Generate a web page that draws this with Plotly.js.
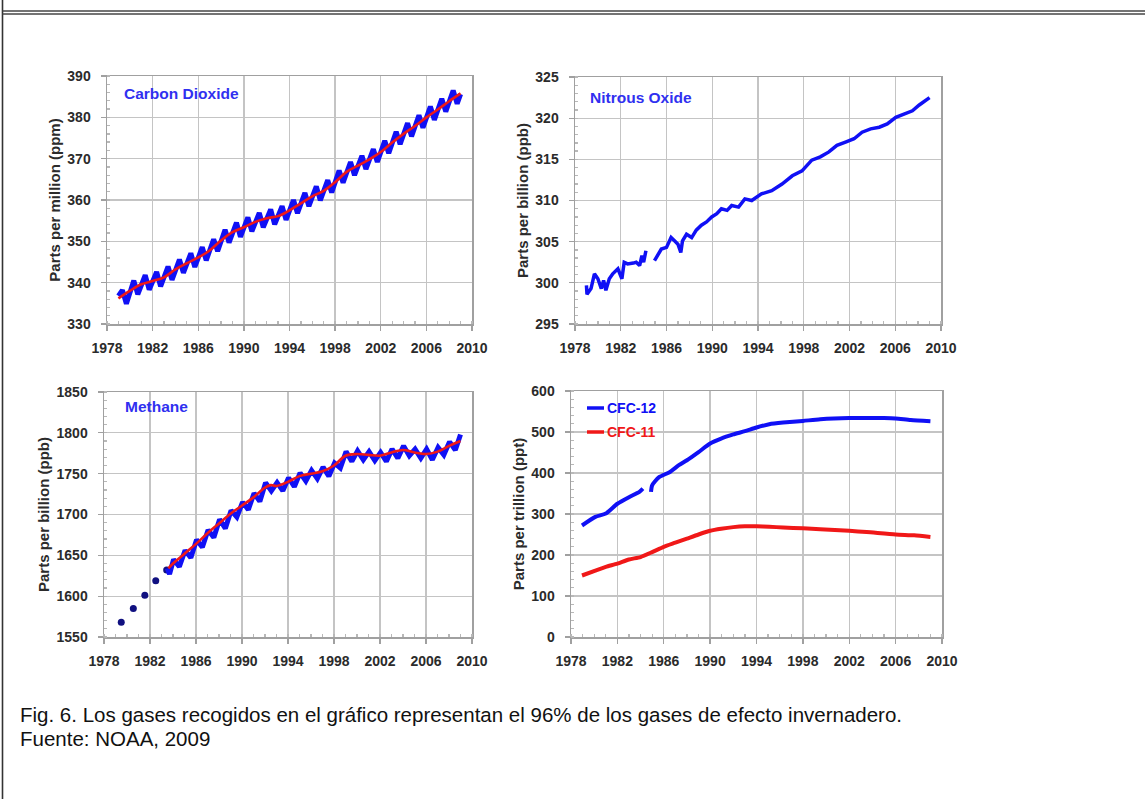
<!DOCTYPE html>
<html>
<head>
<meta charset="utf-8">
<script src="https://cdn.plot.ly/plotly-3.0.1.min.js"></script>
<style>
html,body{margin:0;padding:0;background:#fff;overflow:hidden;}
#chart{width:1145px;height:799px;}
</style>
</head>
<body>
<div id="chart"></div>
<script>
// ---------------- DATA ----------------
const xTickYears = [1978, 1982, 1986, 1990, 1994, 1998, 2002, 2006, 2010];

// Carbon dioxide – monthly-like record (seasonal peaks / troughs), ppm
const co2Years = [1979.0,
  1979.35,1979.7,1980.35,1980.7,1981.35,1981.7,1982.35,1982.7,1983.35,1983.7,
  1984.35,1984.7,1985.35,1985.7,1986.35,1986.7,1987.35,1987.7,1988.35,1988.7,
  1989.35,1989.7,1990.35,1990.7,1991.35,1991.7,1992.35,1992.7,1993.35,1993.7,
  1994.35,1994.7,1995.35,1995.7,1996.35,1996.7,1997.35,1997.7,1998.35,1998.7,
  1999.35,1999.7,2000.35,2000.7,2001.35,2001.7,2002.35,2002.7,2003.35,2003.7,
  2004.35,2004.7,2005.35,2005.7,2006.35,2006.7,2007.35,2007.7,2008.35,2008.7,
  2009.0];
const co2Values = [336.8,
  338.2,334.9,340.5,337.2,341.8,338.3,342.6,339.1,343.9,340.7,
  345.6,342.4,347.1,343.8,348.6,345.4,350.5,347.6,352.8,349.7,
  354.5,351.1,355.8,352.4,356.9,353.4,357.7,354.1,358.5,355.2,
  360.0,356.8,361.7,358.5,363.3,359.9,364.8,361.8,367.1,364.2,
  369.2,366.0,370.7,367.5,372.3,369.2,374.3,371.3,376.5,373.5,
  378.6,375.4,380.5,377.5,382.6,379.4,384.5,381.4,386.5,383.3,
  385.6];
// Carbon dioxide – de-seasonalised trend
const co2TrendYears = [1979,1980,1981,1982,1983,1984,1985,1986,1987,1988,1989,1990,1991,1992,1993,
  1994,1995,1996,1997,1998,1999,2000,2001,2002,2003,2004,2005,2006,2007,2008,2009];
const co2TrendValues = [336.2,338.0,339.6,340.4,341.3,343.2,344.7,346.1,347.8,350.2,352.2,353.4,354.7,355.6,356.1,
  357.5,359.2,360.9,362.2,364.3,366.8,368.3,369.8,371.6,373.9,376.0,377.9,380.0,381.9,383.9,385.8];

// Nitrous oxide, ppb (null = gap in the record)
const n2oYears = [1979.0,1979.05,1979.4,1979.7,1980.0,1980.3,1980.5,1980.7,1981.0,1981.3,1981.75,
  1982.1,1982.3,1982.6,1983.1,1983.35,1983.65,1983.85,1984.0,1984.2,1984.6,
  1984.95,1985.25,1985.55,1986.0,1986.4,1986.7,1987.0,1987.25,1987.4,1987.75,1988.2,1988.6,
  1989.05,1989.5,1989.95,1990.4,1990.8,1991.3,1991.7,1992.3,1992.85,1993.45,1994.3,1995.2,
  1996.1,1997.0,1997.85,1998.7,1999.45,2000.2,2000.9,2001.65,2002.4,2003.1,2003.85,2004.6,
  2005.3,2006.05,2006.8,2007.5,2008.1,2008.8,2009.0];
const n2oValues = [299.7,298.6,299.3,301.1,300.5,299.3,300.3,299.1,300.5,301.1,301.7,
  300.5,302.5,302.3,302.4,302.5,302.1,303.3,302.5,303.9,null,
  302.7,303.5,304.1,304.3,305.5,305.1,304.7,303.7,305.1,305.9,305.5,306.4,
  307.0,307.4,308.0,308.4,309.0,308.8,309.4,309.2,310.2,310.0,310.8,311.2,
  312.0,313.0,313.6,314.9,315.3,315.9,316.7,317.1,317.5,318.3,318.7,318.9,
  319.3,320.1,320.5,320.9,321.6,322.4,322.5];

// Methane, ppb – early flask annual points
const ch4DotYears = [1979.5,1980.55,1981.55,1982.5,1983.45];
const ch4DotValues = [1568,1585,1601,1619,1632];
// Methane – seasonal record
const ch4Years = [1983.5,1983.7,1984.05,1984.55,1985.05,1985.55,1986.05,1986.55,1987.05,1987.55,
  1988.05,1988.55,1989.05,1989.55,1990.05,1990.55,1991.05,1991.55,1992.05,1992.55,
  1993.05,1993.55,1994.05,1994.55,1995.05,1995.55,1996.05,1996.55,1997.05,1997.55,
  1998.05,1998.55,1999.05,1999.55,2000.05,2000.55,2001.05,2001.55,2002.05,2002.55,
  2003.05,2003.55,2004.05,2004.55,2005.05,2005.55,2006.05,2006.55,2007.05,2007.55,
  2008.05,2008.55,2009.0];
const ch4Values = [1634,1627,1645,1636,1656,1647,1669,1660,1681,1672,
  1694,1683,1705,1697,1715,1706,1726,1716,1739,1729,
  1739,1729,1745,1734,1751,1741,1754,1744,1758,1747,
  1763,1757,1777,1765,1778,1767,1777,1766,1776,1765,
  1780,1769,1784,1772,1780,1769,1780,1767,1782,1773,
  1789,1779,1798];
// Methane – trend
const ch4TrendYears = [1983.6,1984,1985,1986,1987,1988,1989,1990,1991,1992,1992.5,1993,1994,1995,1996,
  1997,1998,1999,2000,2001,2002,2003,2004,2005,2006,2007,2008,2009];
const ch4TrendValues = [1634,1640,1652,1664,1677,1689,1701,1711,1721,1733,1736,1735,1740,1747,1750,
  1753,1760,1772,1774,1773,1772,1776,1779,1776,1774,1777,1784,1790];

// CFC-12 and CFC-11, ppt
const cfc12Years = [1978.95,1980.1,1981.0,1982.0,1983.0,1983.9,1984.2,1984.6,1984.9,1985.0,1985.6,1986.5,
  1987.3,1988.0,1989.0,1990.0,1990.95,1992.0,1993.0,1994.0,1995.1,1996.3,1998.0,1999.5,
  2002.0,2003.5,2005.0,2006.0,2007.3,2009.0];
const cfc12Values = [272,293,301,325,341,354,362,null,354,370,390,402,
  419,431,451,472,484,494,502,511,519,523,527,531,
  534,534,534,533,529,526];
const cfc11Years = [1978.95,1980.1,1981.0,1982.0,1983.0,1984.0,1985.0,1986.0,1987.0,1988.0,1989.0,1990.0,
  1990.95,1992.0,1993.0,1994.0,1995.1,1996.3,1998.0,1999.5,2002.0,2003.5,2006.0,2007.6,2009.0];
const cfc11Values = [150,162,171,179,189,195,207,220,230,240,250,259,
  264,268,270,270,269,267,265,263,259,256,250,248,244];

const panelTitles = ['Carbon Dioxide', 'Nitrous Oxide', 'Methane'];
const yTitles = ['Parts per million (ppm)', 'Parts per billion (ppb)', 'Parts per billion (ppb)', 'Parts per trillion (ppt)'];
const legendNames = ['CFC-12', 'CFC-11'];
const captionLines = ['Fig. 6. Los gases recogidos en el gráfico representan el 96% de los gases de efecto invernadero.',
  'Fuente: NOAA, 2009'];

// ---------------- STYLE ----------------
const W = 1145, H = 799;
const BLUE = '#1010f5', RED = '#f01818', NAVY = '#101080';
const FONT = 'Liberation Sans, Arial, sans-serif';
const px = (a, b) => [a / W, b / W];
const py = (top, bottom) => [1 - bottom / H, 1 - top / H];

function xAxis(domain, anchor) {
  return {
    domain: domain, anchor: anchor, range: [1978, 2010],
    tickmode: 'array', tickvals: xTickYears,
    showgrid: true, gridcolor: '#c4c4c4', gridwidth: 1.3,
    showline: true, linecolor: '#a0a0a0', linewidth: 1.5, mirror: true,
    ticks: 'outside', ticklen: 5, tickcolor: '#a0a0a0', tickwidth: 1.3,
    tickfont: {family: FONT, size: 14, color: '#2b2b2b', weight: 'bold'},
    ticklabelstandoff: 6,
    minor: {ticks: 'inside', ticklen: 3, dtick: 1, tickcolor: '#b8b8b8', showgrid: false},
    zeroline: false, fixedrange: true
  };
}
function yAxis(domain, anchor, range, dtick, minorDtick, title) {
  return {
    domain: domain, anchor: anchor, range: range, tick0: range[0], dtick: dtick,
    showgrid: true, gridcolor: '#c4c4c4', gridwidth: 1.3,
    showline: true, linecolor: '#a0a0a0', linewidth: 1.5, mirror: true,
    ticks: 'outside', ticklen: 5, tickcolor: '#a0a0a0', tickwidth: 1.3,
    tickfont: {family: FONT, size: 14, color: '#2b2b2b', weight: 'bold'},
    ticklabelstandoff: 7,
    minor: {ticks: 'inside', ticklen: 3, dtick: minorDtick, tickcolor: '#b8b8b8', showgrid: false},
    title: {text: title, font: {family: FONT, size: 15, color: '#2b2b2b', weight: 'bold'}, standoff: 3},
    zeroline: false, fixedrange: true
  };
}

const traces = [
  {x: co2Years, y: co2Values, xaxis: 'x', yaxis: 'y', type: 'scatter', mode: 'lines',
   line: {color: BLUE, width: 5}, hoverinfo: 'skip', showlegend: false},
  {x: co2TrendYears, y: co2TrendValues, xaxis: 'x', yaxis: 'y', type: 'scatter', mode: 'lines',
   line: {color: RED, width: 2.6, shape: 'spline'}, hoverinfo: 'skip', showlegend: false},
  {x: n2oYears, y: n2oValues, xaxis: 'x2', yaxis: 'y2', type: 'scatter', mode: 'lines',
   line: {color: BLUE, width: 3.5}, connectgaps: false, hoverinfo: 'skip', showlegend: false},
  {x: ch4DotYears, y: ch4DotValues, xaxis: 'x3', yaxis: 'y3', type: 'scatter', mode: 'markers',
   marker: {color: NAVY, size: 7}, hoverinfo: 'skip', showlegend: false},
  {x: ch4Years, y: ch4Values, xaxis: 'x3', yaxis: 'y3', type: 'scatter', mode: 'lines',
   line: {color: BLUE, width: 5}, hoverinfo: 'skip', showlegend: false},
  {x: ch4TrendYears, y: ch4TrendValues, xaxis: 'x3', yaxis: 'y3', type: 'scatter', mode: 'lines',
   line: {color: RED, width: 2.6, shape: 'spline'}, hoverinfo: 'skip', showlegend: false},
  {x: cfc12Years, y: cfc12Values, xaxis: 'x4', yaxis: 'y4', type: 'scatter', mode: 'lines', name: legendNames[0],
   line: {color: BLUE, width: 4, shape: 'spline', smoothing: 0.6}, connectgaps: false, hoverinfo: 'skip', showlegend: false},
  {x: cfc11Years, y: cfc11Values, xaxis: 'x4', yaxis: 'y4', type: 'scatter', mode: 'lines', name: legendNames[1],
   line: {color: RED, width: 4, shape: 'spline', smoothing: 0.6}, hoverinfo: 'skip', showlegend: false}
];

const d1x = px(107, 472), d1y = py(76, 324);
const d2x = px(575, 941), d2y = py(77, 324);
const d3x = px(104, 472), d3y = py(392, 637);
const d4x = px(571, 942), d4y = py(391, 637);

const titleFont = {family: FONT, size: 15.5, color: '#3030f0', weight: 'bold'};
const annotations = [
  {xref: 'x domain', yref: 'y domain', x: 15 / 365, y: 1 - 17 / 248, xanchor: 'left', yanchor: 'middle',
   text: panelTitles[0], showarrow: false, font: titleFont},
  {xref: 'x2 domain', yref: 'y2 domain', x: 13 / 366, y: 1 - 20 / 247, xanchor: 'left', yanchor: 'middle',
   text: panelTitles[1], showarrow: false, font: titleFont},
  {xref: 'x3 domain', yref: 'y3 domain', x: 19 / 368, y: 1 - 14 / 245, xanchor: 'left', yanchor: 'middle',
   text: panelTitles[2], showarrow: false, font: titleFont},
  {xref: 'x4 domain', yref: 'y4 domain', x: 34 / 371, y: 1 - 17 / 246, xanchor: 'left', yanchor: 'middle',
   text: legendNames[0], showarrow: false, font: {family: FONT, size: 14, color: BLUE, weight: 'bold'}},
  {xref: 'x4 domain', yref: 'y4 domain', x: 34 / 371, y: 1 - 41 / 246, xanchor: 'left', yanchor: 'middle',
   text: legendNames[1], showarrow: false, font: {family: FONT, size: 14, color: RED, weight: 'bold'}},
  {xref: 'paper', yref: 'paper', x: 18 / W, y: 1 - 714 / H, xanchor: 'left', yanchor: 'middle',
   text: captionLines[0], showarrow: false, font: {family: FONT, size: 20.5, color: '#111'}},
  {xref: 'paper', yref: 'paper', x: 18 / W, y: 1 - 738 / H, xanchor: 'left', yanchor: 'middle',
   text: captionLines[1], showarrow: false, font: {family: FONT, size: 20.5, color: '#111'}}
];

const shapes = [
  // legend keys
  {type: 'line', xref: 'x4 domain', yref: 'y4 domain', x0: 16 / 371, x1: 33 / 371, y0: 1 - 17 / 246, y1: 1 - 17 / 246,
   line: {color: BLUE, width: 3.5}},
  {type: 'line', xref: 'x4 domain', yref: 'y4 domain', x0: 16 / 371, x1: 33 / 371, y0: 1 - 41 / 246, y1: 1 - 41 / 246,
   line: {color: RED, width: 3.5}},
  // page frame
  {type: 'line', xref: 'paper', yref: 'paper', x0: 2.5 / W, x1: 2.5 / W, y0: 0, y1: 1, line: {color: '#333', width: 1.6}},
  {type: 'line', xref: 'paper', yref: 'paper', x0: 2.5 / W, x1: 1, y0: 1 - 11 / H, y1: 1 - 11 / H, line: {color: '#444', width: 1.3}},
  {type: 'line', xref: 'paper', yref: 'paper', x0: 2.5 / W, x1: 1, y0: 1 - 14 / H, y1: 1 - 14 / H, line: {color: '#444', width: 1.3}}
];

const layout = {
  width: W, height: H,
  margin: {l: 0, r: 0, t: 0, b: 0},
  paper_bgcolor: '#fff', plot_bgcolor: '#fff',
  showlegend: false,
  font: {family: FONT},
  xaxis: xAxis(d1x, 'y'),
  yaxis: yAxis(d1y, 'x', [330, 390], 10, 2, yTitles[0]),
  xaxis2: xAxis(d2x, 'y2'),
  yaxis2: yAxis(d2y, 'x2', [295, 325], 5, 1, yTitles[1]),
  xaxis3: xAxis(d3x, 'y3'),
  yaxis3: yAxis(d3y, 'x3', [1550, 1850], 50, 10, yTitles[2]),
  xaxis4: xAxis(d4x, 'y4'),
  yaxis4: yAxis(d4y, 'x4', [0, 600], 100, 20, yTitles[3]),
  annotations: annotations,
  shapes: shapes
};

Plotly.newPlot('chart', traces, layout, {displayModeBar: false, staticPlot: true});
</script>
</body>
</html>
